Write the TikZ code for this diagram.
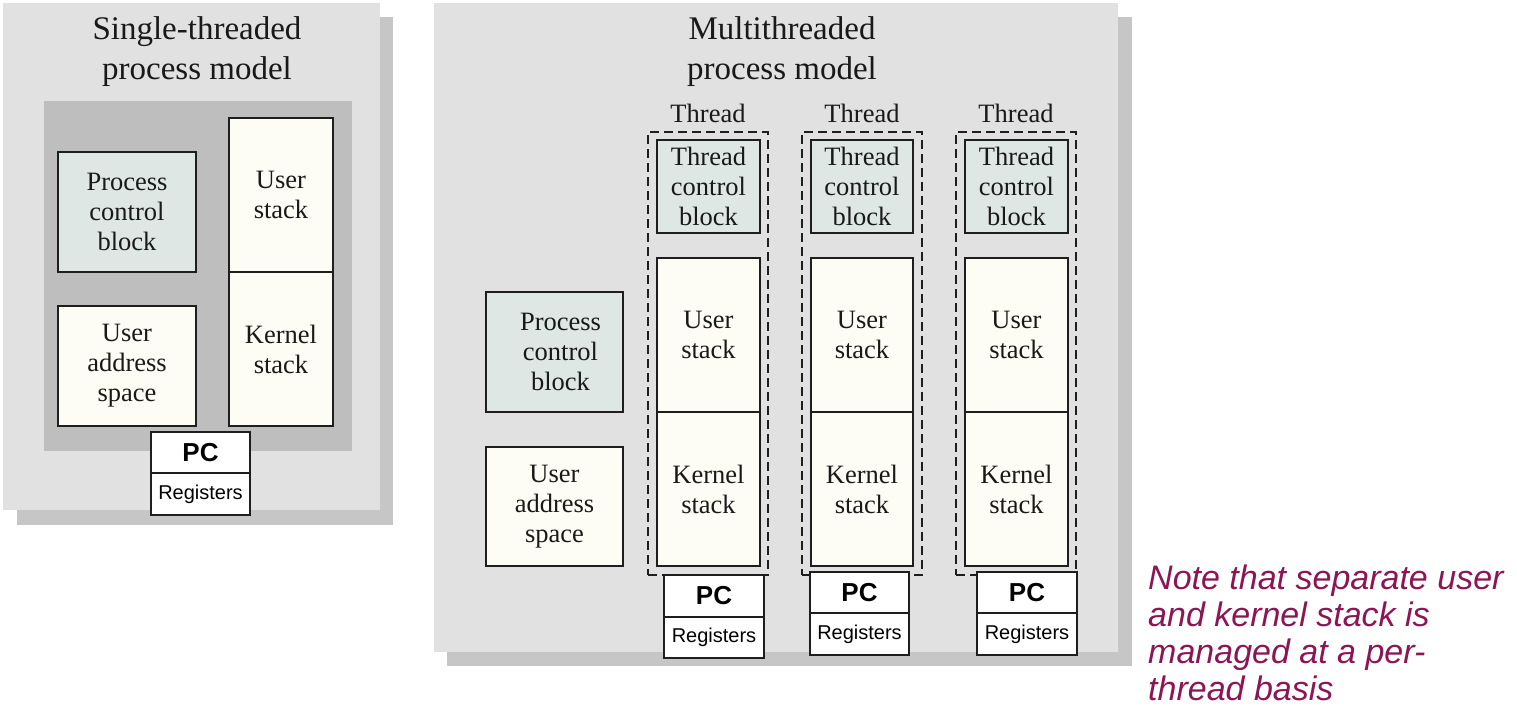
\documentclass[tikz,border=0pt]{standalone}
\usepackage{fontspec}
\setmainfont{Liberation Serif}
\newfontfamily\hel{Liberation Sans}
\definecolor{panelgray}{RGB}{225,225,225}
\definecolor{shadowgray}{RGB}{198,198,198}
\definecolor{innergray}{RGB}{190,190,190}
\definecolor{ivory}{RGB}{253,253,246}
\definecolor{tealgray}{RGB}{222,231,228}
\definecolor{notecol}{RGB}{140,22,84}
\definecolor{edge}{RGB}{30,30,30}
% style, name, x1, y1, x2, y2, text
\newcommand\mkrect[7]{%
  \pgfmathsetmacro\rcx{(#3+#5)/2}\pgfmathsetmacro\rcy{(#4+#6)/2}%
  \pgfmathsetmacro\rwd{#5-#3}\pgfmathsetmacro\rht{#6-#4}%
  \node[#1, minimum width=\rwd pt, minimum height=\rht pt] (#2) at (\rcx,\rcy) {#7};}
\begin{document}
\begin{tikzpicture}[x=1pt,y=-1pt,
  shadowbox/.style={fill=shadowgray, draw=none, inner sep=0pt},
  panelbox/.style={fill=panelgray, draw=none, inner sep=0pt},
  innerbox/.style={fill=innergray, draw=none, inner sep=0pt},
  titletext/.style={font=\fontsize{33}{40}\selectfont, align=center, inner sep=0pt, text=black!90},
  blk/.style={draw=edge, line width=1.6pt, fill=ivory, inner sep=0pt, align=center,
    font=\fontsize{26.5}{30}\selectfont, text=black!90},
  ctl/.style={blk, fill=tealgray},
  dashbox/.style={draw=edge, line width=1.5pt, dash pattern=on 9pt off 5pt, inner sep=0pt},
  threadlbl/.style={font=\fontsize{26.5}{30}\selectfont, inner sep=0pt, anchor=base, text=black!90},
  pcbox/.style={draw=edge, line width=1.6pt, fill=white, inner sep=0pt,
    font=\hel\bfseries\fontsize{26}{28}\selectfont},
  regbox/.style={draw=edge, line width=1.6pt, fill=white, inner sep=0pt,
    font=\hel\fontsize{20}{22}\selectfont},
  notetext/.style={font=\hel\itshape\fontsize{34}{37}\selectfont, align=left, inner sep=0pt,
    text=notecol, anchor=north west}
]
\useasboundingbox (0,0) rectangle (1517,707);
\fill[white] (0,0) rectangle (1517,707);

% ---------- Single-threaded panel ----------
\mkrect{shadowbox}{shL}{17}{17}{393}{525}{}
\mkrect{panelbox}{panL}{3}{3}{380}{510}{}
\node[titletext] (titleL) at (197,52) {Single-threaded\\process model};
\mkrect{innerbox}{inL}{44}{101}{352}{451}{}
\mkrect{ctl}{pcbL}{58}{152}{196}{272}{Process\\control\\block}
\mkrect{blk}{uasL}{58}{306}{196}{426}{User\\address\\space}
\mkrect{blk}{usL}{229}{118}{333}{272}{User\\stack}
\mkrect{blk}{ksL}{229}{272}{333}{426}{Kernel\\stack}
\mkrect{pcbox}{pcL}{151}{432}{250}{473}{PC}
\mkrect{regbox}{regL}{151}{473}{250}{515}{Registers}

% ---------- Multithreaded panel ----------
\mkrect{shadowbox}{shM}{447}{17}{1132}{666}{}
\mkrect{panelbox}{panM}{434}{3}{1118}{652}{}
\node[titletext] (titleM) at (782,52) {Multithreaded\\process model};

\mkrect{ctl}{pcbM}{486}{292}{623}{412}{\hspace*{12pt}Process\\\hspace*{12pt}control\\\hspace*{12pt}block}
\mkrect{blk}{uasM}{486}{447}{623}{566}{User\\address\\space}

% thread 1
\node[threadlbl] (lbl1) at (708,122) {Thread};
\mkrect{dashbox}{th1}{648}{132}{768}{575}{}
\mkrect{ctl}{tcb1}{657}{140}{760}{233}{Thread\\control\\block}
\mkrect{blk}{us1}{657}{258}{760}{412}{User\\stack}
\mkrect{blk}{ks1}{657}{412}{760}{566}{Kernel\\stack}
\mkrect{pcbox}{pc1}{664}{575}{764}{617}{PC}
\mkrect{regbox}{reg1}{664}{617}{764}{658}{Registers}

% thread 2
\node[threadlbl] (lbl2) at (862,122) {Thread};
\mkrect{dashbox}{th2}{802}{132}{922}{575}{}
\mkrect{ctl}{tcb2}{811}{140}{913}{233}{Thread\\control\\block}
\mkrect{blk}{us2}{811}{258}{913}{412}{User\\stack}
\mkrect{blk}{ks2}{811}{412}{913}{566}{Kernel\\stack}
\mkrect{pcbox}{pc2}{810}{572}{909}{613}{PC}
\mkrect{regbox}{reg2}{810}{613}{909}{655}{Registers}

% thread 3
\node[threadlbl] (lbl3) at (1016,122) {Thread};
\mkrect{dashbox}{th3}{956}{132}{1076}{575}{}
\mkrect{ctl}{tcb3}{965}{140}{1068}{233}{Thread\\control\\block}
\mkrect{blk}{us3}{965}{258}{1068}{412}{User\\stack}
\mkrect{blk}{ks3}{965}{412}{1068}{566}{Kernel\\stack}
\mkrect{pcbox}{pc3}{977}{572}{1077}{613}{PC}
\mkrect{regbox}{reg3}{977}{613}{1077}{655}{Registers}

% ---------- Note ----------
\node[notetext] (note) at (1148,565) {Note that separate user\\and kernel stack is\\managed at a per-\\thread basis};
\end{tikzpicture}
\end{document}
